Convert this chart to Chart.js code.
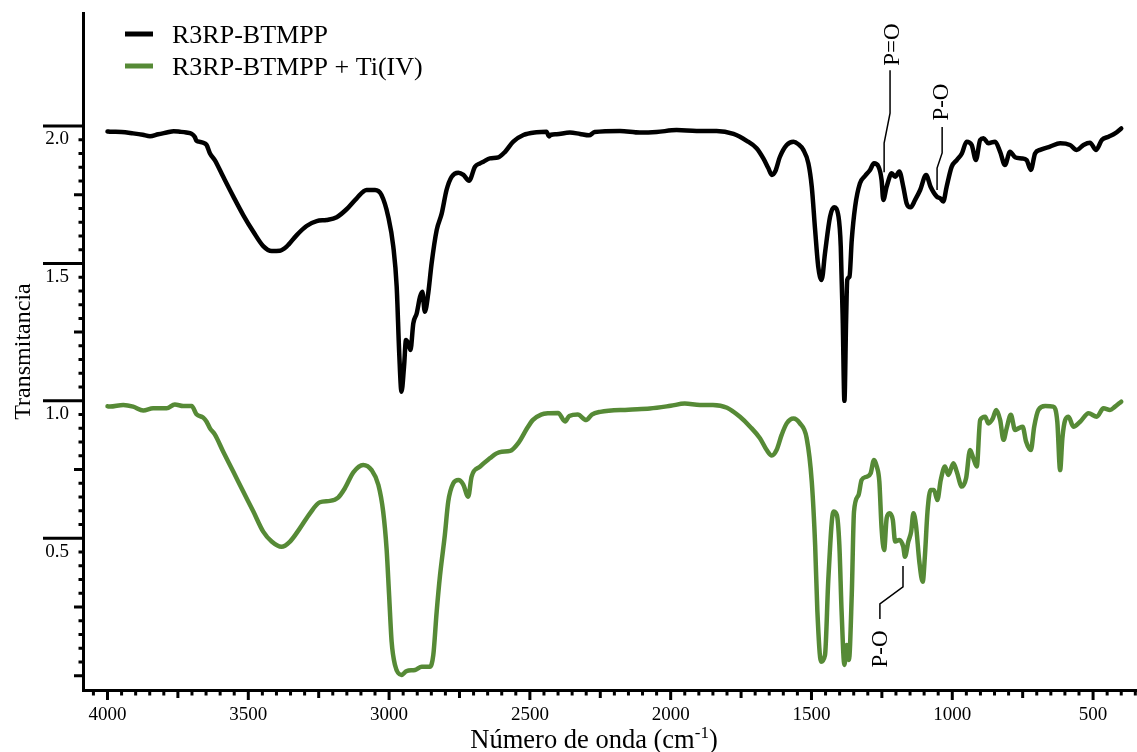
<!DOCTYPE html>
<html>
<head>
<meta charset="utf-8">
<title>FTIR R3RP-BTMPP</title>
<script src="https://cdn.jsdelivr.net/npm/chart.js@4.4.1/dist/chart.umd.min.js"></script>
<style>
  html, body { margin: 0; padding: 0; background: #ffffff; }
  #wrap { width: 1137px; height: 752px; }
</style>
</head>
<body>
<div id="wrap"><canvas id="ftir" width="1137" height="752"></canvas></div>
<script>
const SERIF = '"Liberation Serif", "Times New Roman", Times, serif';

// FTIR spectrum of the pure extractant (wavenumber in cm-1, transmittance)
const wavenumberPure = [
  4000, 3991, 3950, 3909, 3875, 3849, 3820, 3790, 3765, 3743, 3720, 3701, 3690, 3684, 3670, 3660,
  3648, 3636, 3619, 3589, 3553, 3518, 3482, 3447, 3417, 3388, 3364, 3328, 3293, 3257, 3222, 3186,
  3151, 3115, 3080, 3050, 3027, 3003, 2985, 2973, 2964, 2956, 2947, 2940, 2932, 2924, 2914, 2902,
  2890, 2882, 2873, 2861, 2849, 2831, 2813, 2796, 2778, 2754, 2736, 2716, 2695, 2677, 2665, 2642,
  2612, 2588, 2559, 2523, 2476, 2441, 2432, 2425, 2405, 2358, 2322, 2290, 2270, 2180, 2109, 2050,
  1979, 1908, 1837, 1777, 1730, 1695, 1671, 1653, 1641, 1629, 1612, 1588, 1564, 1547, 1529, 1511,
  1499, 1487, 1476, 1464, 1452, 1434, 1420, 1404, 1396, 1389, 1383, 1377, 1373, 1365, 1357, 1345,
  1328, 1310, 1292, 1278, 1262, 1251, 1245, 1233, 1215, 1203, 1188, 1174, 1162, 1148, 1132, 1114,
  1093, 1077, 1055, 1043, 1032, 1020, 1002, 984, 966, 949, 931, 916, 901, 889, 872, 848,
  830, 813, 795, 777, 753, 736, 721, 706, 688, 653, 617, 582, 558, 534, 511, 489,
  469, 445, 422, 400
];
const transmittancePure = [
  1.980, 1.979, 1.978, 1.973, 1.968, 1.963, 1.970, 1.976, 1.981, 1.979, 1.976, 1.971, 1.960, 1.946, 1.942, 1.939,
  1.931, 1.900, 1.876, 1.815, 1.743, 1.676, 1.615, 1.563, 1.545, 1.546, 1.561, 1.603, 1.636, 1.654, 1.658, 1.668,
  1.697, 1.737, 1.767, 1.767, 1.749, 1.670, 1.561, 1.415, 1.173, 1.033, 1.124, 1.221, 1.209, 1.185, 1.282, 1.318,
  1.379, 1.397, 1.324, 1.391, 1.500, 1.621, 1.682, 1.767, 1.815, 1.830, 1.822, 1.801, 1.852, 1.864, 1.870, 1.882,
  1.886, 1.906, 1.943, 1.967, 1.977, 1.979, 1.962, 1.968, 1.970, 1.976, 1.971, 1.966, 1.978, 1.982, 1.976, 1.978,
  1.985, 1.982, 1.982, 1.971, 1.946, 1.919, 1.882, 1.846, 1.822, 1.834, 1.888, 1.931, 1.943, 1.934, 1.913, 1.864,
  1.779, 1.621, 1.488, 1.440, 1.537, 1.670, 1.704, 1.670, 1.561, 1.294, 1.000, 1.294, 1.440, 1.452, 1.585, 1.706,
  1.791, 1.818, 1.840, 1.864, 1.852, 1.803, 1.731, 1.779, 1.828, 1.815, 1.834, 1.779, 1.718, 1.704, 1.731, 1.767,
  1.822, 1.779, 1.743, 1.737, 1.725, 1.779, 1.852, 1.876, 1.900, 1.943, 1.931, 1.876, 1.949, 1.955, 1.937, 1.943,
  1.906, 1.858, 1.906, 1.886, 1.882, 1.876, 1.840, 1.900, 1.913, 1.925, 1.937, 1.931, 1.913, 1.931, 1.939, 1.913,
  1.949, 1.961, 1.973, 1.991
];

// FTIR spectrum after Ti(IV) loading
const wavenumberTi = [
  4000, 3991, 3944, 3909, 3873, 3838, 3790, 3761, 3731, 3701, 3684, 3660, 3648, 3636, 3619, 3589,
  3553, 3518, 3482, 3447, 3417, 3382, 3352, 3317, 3281, 3246, 3210, 3181, 3157, 3127, 3092, 3062,
  3038, 3021, 3009, 3000, 2991, 2979, 2956, 2938, 2908, 2884, 2855, 2843, 2831, 2819, 2802, 2790,
  2772, 2754, 2737, 2719, 2707, 2677, 2641, 2620, 2600, 2570, 2540, 2510, 2490, 2460, 2430, 2400,
  2375, 2360, 2330, 2300, 2280, 2250, 2150, 2074, 2000, 1950, 1896, 1850, 1800, 1754, 1718, 1683,
  1659, 1641, 1624, 1606, 1588, 1564, 1541, 1517, 1499, 1487, 1479, 1466, 1452, 1440, 1422, 1410,
  1401, 1393, 1383, 1375, 1367, 1357, 1349, 1333, 1322, 1304, 1290, 1278, 1268, 1259, 1251, 1242,
  1233, 1223, 1211, 1203, 1188, 1174, 1168, 1156, 1146, 1138, 1129, 1117, 1105, 1097, 1088, 1077,
  1065, 1053, 1041, 1026, 1014, 996, 984, 966, 951, 937, 925, 913, 901, 883, 872, 856,
  844, 830, 818, 807, 792, 777, 765, 750, 738, 721, 709, 694, 670, 641, 627, 617,
  609, 599, 587, 570, 546, 516, 487, 463, 440, 422, 400
];
const transmittanceTi = [
  0.980, 0.979, 0.985, 0.979, 0.965, 0.973, 0.973, 0.987, 0.981, 0.981, 0.951, 0.939, 0.924, 0.900, 0.878, 0.815,
  0.742, 0.670, 0.597, 0.524, 0.488, 0.469, 0.488, 0.536, 0.591, 0.631, 0.636, 0.648, 0.682, 0.740, 0.767, 0.748,
  0.694, 0.597, 0.463, 0.294, 0.124, 0.039, 0.003, 0.017, 0.021, 0.033, 0.033, 0.075, 0.233, 0.366, 0.512, 0.633,
  0.700, 0.712, 0.696, 0.651, 0.724, 0.761, 0.792, 0.808, 0.815, 0.818, 0.848, 0.900, 0.930, 0.950, 0.955, 0.956,
  0.925, 0.945, 0.950, 0.930, 0.950, 0.960, 0.968, 0.972, 0.982, 0.990, 0.985, 0.985, 0.975, 0.942, 0.906, 0.864,
  0.821, 0.801, 0.821, 0.876, 0.918, 0.936, 0.918, 0.864, 0.706, 0.475, 0.233, 0.051, 0.075, 0.354, 0.597, 0.585,
  0.475, 0.233, 0.039, 0.112, 0.057, 0.294, 0.597, 0.657, 0.712, 0.724, 0.736, 0.785, 0.761, 0.706, 0.536, 0.457,
  0.573, 0.591, 0.566, 0.488, 0.494, 0.469, 0.433, 0.488, 0.524, 0.591, 0.548, 0.415, 0.342, 0.439, 0.597, 0.676,
  0.676, 0.639, 0.712, 0.761, 0.730, 0.773, 0.742, 0.688, 0.718, 0.821, 0.791, 0.761, 0.930, 0.942, 0.918, 0.936,
  0.967, 0.930, 0.858, 0.900, 0.949, 0.894, 0.900, 0.906, 0.852, 0.821, 0.906, 0.967, 0.981, 0.979, 0.924, 0.748,
  0.864, 0.930, 0.942, 0.906, 0.924, 0.955, 0.942, 0.973, 0.967, 0.979, 0.997
];

const seriesLabels = ['R3RP-BTMPP', 'R3RP-BTMPP + Ti(IV)'];
const seriesColors = ['#000000', '#568a36'];

// Labelled tick values
const xTickLabels = [4000, 3500, 3000, 2500, 2000, 1500, 1000, 500];
const yTickLabels = [0.5, 1.0, 1.5, 2.0];

const xTitleMain = 'Número de onda (cm';
const xTitleSup = '-1';
const yTitle = 'Transmitancia';

// Band assignments: label anchor and leader path, in (cm-1, transmittance)
const bandNotes = [
  { text: 'P=O', at: [1211, 2.296], path: [[1221, 2.203], [1221, 2.047], [1242, 1.938], [1242, 1.832]] },
  { text: 'P-O', at: [1036, 2.087], path: [[1036, 1.996], [1036, 1.902], [1054, 1.847], [1054, 1.767]] },
  { text: 'P-O', at: [1253, 0.097], path: [[1257, 0.206], [1257, 0.261], [1175, 0.323], [1175, 0.399]] }
];

const toPoints = (xs, ys) => xs.map((x, i) => ({ x: x, y: ys[i] }));

// Axis tick marks: long/medium/short marks on both axes
const tickMarks = {
  id: 'tickMarks',
  afterDatasetsDraw(chart) {
    const { ctx, chartArea: a, scales: { x, y } } = chart;
    ctx.save();
    ctx.strokeStyle = '#000';
    ctx.lineWidth = 3;
    ctx.lineCap = 'butt';
    ctx.beginPath();
    for (let i = 0; i <= 40; i++) {
      const py = y.getPixelForValue(i * 0.05);
      const len = (i % 10 === 0 && i > 0) ? 40 : (i % 5 === 0 ? 9 : 4.5);
      ctx.moveTo(a.left - len, py);
      ctx.lineTo(a.left, py);
    }
    for (let w = 4050; w >= 350; w -= 50) {
      const px = x.getPixelForValue(w);
      const len = (w % 500 === 0) ? 10 : (w % 250 === 0 ? 8 : 5.5);
      ctx.moveTo(px, a.bottom);
      ctx.lineTo(px, a.bottom + len);
    }
    ctx.stroke();
    ctx.restore();
  }
};

// Legend in the upper-left corner of the plot
const cornerLegend = {
  id: 'cornerLegend',
  afterDraw(chart) {
    const { ctx, chartArea: a } = chart;
    ctx.save();
    ctx.font = '26px ' + SERIF;
    ctx.textBaseline = 'middle';
    ctx.textAlign = 'left';
    chart.data.datasets.forEach((ds, i) => {
      const yy = a.top + 21 + i * 32;
      ctx.strokeStyle = ds.borderColor;
      ctx.lineWidth = 5;
      ctx.beginPath();
      ctx.moveTo(a.left + 42, yy);
      ctx.lineTo(a.left + 70, yy);
      ctx.stroke();
      ctx.fillStyle = '#000';
      ctx.fillText(ds.label, a.left + 89, yy + 2);
    });
    ctx.restore();
  }
};

// Band assignment labels with leader lines
const bandLabels = {
  id: 'bandLabels',
  afterDraw(chart) {
    const { ctx, scales: { x, y } } = chart;
    ctx.save();
    ctx.strokeStyle = '#000';
    ctx.fillStyle = '#000';
    ctx.lineWidth = 1.5;
    ctx.font = '23px ' + SERIF;
    ctx.textAlign = 'center';
    ctx.textBaseline = 'middle';
    bandNotes.forEach(n => {
      ctx.beginPath();
      n.path.forEach((p, k) => {
        const px = x.getPixelForValue(p[0]);
        const py = y.getPixelForValue(p[1]);
        if (k === 0) ctx.moveTo(px, py); else ctx.lineTo(px, py);
      });
      ctx.stroke();
      ctx.save();
      ctx.translate(x.getPixelForValue(n.at[0]), y.getPixelForValue(n.at[1]));
      ctx.rotate(-Math.PI / 2);
      ctx.fillText(n.text, 0, 0);
      ctx.restore();
    });
    ctx.restore();
  }
};

// X axis title with superscript unit exponent
const xTitle = {
  id: 'xTitle',
  afterDraw(chart) {
    const { ctx, chartArea: a } = chart;
    const big = '26.5px ' + SERIF, small = '17px ' + SERIF;
    ctx.save();
    ctx.fillStyle = '#000';
    ctx.textBaseline = 'alphabetic';
    ctx.textAlign = 'left';
    ctx.font = big;
    const w1 = ctx.measureText(xTitleMain).width;
    const w3 = ctx.measureText(')').width;
    ctx.font = small;
    const w2 = ctx.measureText(xTitleSup).width;
    const total = w1 + w2 + w3;
    const cx = (a.left + a.right) / 2 - 16;
    const base = a.bottom + 58;
    let xx = cx - total / 2;
    ctx.font = big;
    ctx.fillText(xTitleMain, xx, base);
    xx += w1;
    ctx.font = small;
    ctx.fillText(xTitleSup, xx, base - 10);
    xx += w2;
    ctx.font = big;
    ctx.fillText(')', xx, base);
    ctx.restore();
  }
};

new Chart(document.getElementById('ftir'), {
  type: 'scatter',
  data: {
    datasets: [
      {
        label: seriesLabels[0],
        data: toPoints(wavenumberPure, transmittancePure),
        borderColor: seriesColors[0],
        backgroundColor: seriesColors[0]
      },
      {
        label: seriesLabels[1],
        data: toPoints(wavenumberTi, transmittanceTi),
        borderColor: seriesColors[1],
        backgroundColor: seriesColors[1]
      }
    ]
  },
  options: {
    responsive: false,
    animation: false,
    devicePixelRatio: 1,
    showLine: true,
    layout: { padding: { top: 13, left: 0, right: 0, bottom: 0 } },
    elements: {
      point: { radius: 0, hoverRadius: 0 },
      line: {
        borderWidth: 4.5,
        cubicInterpolationMode: 'monotone',
        borderJoinStyle: 'round',
        borderCapStyle: 'round',
        fill: false
      }
    },
    plugins: {
      legend: { display: false },
      tooltip: { enabled: false }
    },
    scales: {
      x: {
        type: 'linear',
        reverse: true,
        min: 344,
        max: 4087,
        grid: { display: true, drawOnChartArea: false, drawTicks: false },
        border: { display: true, color: '#000', width: 3 },
        ticks: {
          autoSkip: false,
          maxRotation: 0,
          padding: 14,
          color: '#000',
          font: { family: SERIF, size: 19 },
          callback: v => String(v)
        },
        afterBuildTicks(s) { s.ticks = xTickLabels.map(v => ({ value: v })); },
        afterFit(s) { s.height = 62; s.paddingLeft = 0; s.paddingRight = 0; }
      },
      y: {
        type: 'linear',
        min: -0.052,
        max: 2.411,
        grid: { display: true, drawOnChartArea: false, drawTicks: false },
        border: { display: true, color: '#000', width: 3 },
        title: {
          display: true,
          text: yTitle,
          color: '#000',
          font: { family: SERIF, size: 24, lineHeight: 1.2 },
          padding: { top: 9, bottom: 0 }
        },
        ticks: {
          autoSkip: false,
          padding: 14,
          labelOffset: 13.5,
          color: '#000',
          font: { family: SERIF, size: 19 },
          callback: v => v.toFixed(1)
        },
        afterBuildTicks(s) { s.ticks = yTickLabels.map(v => ({ value: v })); },
        afterFit(s) { s.width = 83; s.paddingTop = 0; s.paddingBottom = 0; }
      }
    }
  },
  plugins: [tickMarks, cornerLegend, bandLabels, xTitle]
});
</script>
</body>
</html>
